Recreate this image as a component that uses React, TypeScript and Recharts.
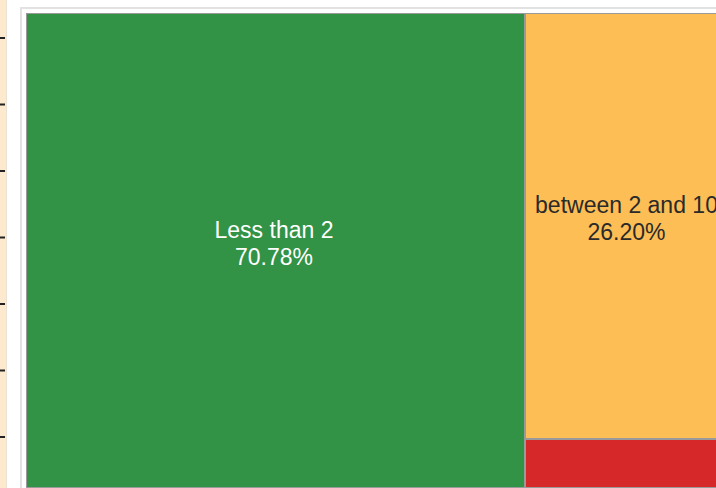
import React from 'react';
import { Treemap, LineChart, Line, YAxis } from 'recharts';

const categories = ['Less than 2', 'between 2 and 10', 'more than 10'];
const shares = [70.78, 26.2, 3.02];
const fills = ['#329246', '#FDBE55', '#D62828'];
const labelColors = ['#ffffff', '#2a2a2a', '#ffffff'];
const sideTicks = [0, 1, 2, 3, 4, 5, 6];

const treeData = categories.map((name, i) => ({
  name,
  size: shares[i],
  fill: fills[i],
  labelColor: labelColors[i],
}));

const sideData = sideTicks.map((v) => ({ v }));

const Cell = (props: any) => {
  const { x, y, width, height, depth, name, size, fill, labelColor } = props;
  if (depth !== 1) return null;
  const cx = x + width / 2;
  const cy = y + height / 2;
  const showLabel = height > 80 && width > 80;
  return (
    <g>
      <rect
        x={x + 0.5}
        y={y + 0.5}
        width={Math.max(0, width - 1)}
        height={Math.max(0, height - 1)}
        fill={fill}
        stroke="#9a9a9a"
        strokeWidth={1}
      />
      {showLabel && (
        <text
          x={cx}
          textAnchor="middle"
          fill={labelColor}
          stroke="none"
          fontFamily="'Liberation Sans', Arial, sans-serif"
          fontSize={23}
        >
          <tspan x={cx - 1.5} y={cy - 13}>{name}</tspan>
          <tspan x={cx - 1.5} y={cy + 14}>{`${Number(size).toFixed(2)}%`}</tspan>
        </text>
      )}
    </g>
  );
};

export default function App() {
  return (
    <div
      style={{
        position: 'absolute',
        left: 0,
        top: 0,
        width: 716,
        height: 488,
        overflow: 'hidden',
        background: '#ffffff',
      }}
    >
      <div
        style={{
          position: 'absolute',
          left: 0,
          top: 0,
          width: 6,
          height: 488,
          background: '#FCE9CE',
          borderRight: '1px solid #ebe2d5',
        }}
      />
      <div style={{ position: 'absolute', left: 0, top: 0 }}>
        <LineChart width={20} height={488} data={sideData} margin={{ top: 38, bottom: 51, left: 0, right: 0 }}>
          <YAxis
            dataKey="v"
            type="number"
            domain={[0, 6]}
            ticks={sideTicks}
            width={5}
            tickSize={5}
            axisLine={false}
            tick={{ fontSize: 0 }}
            tickFormatter={() => ''}
            tickLine={{ stroke: '#222222', strokeWidth: 2 }}
          />
          <Line dataKey="v" stroke="none" dot={false} isAnimationActive={false} />
        </LineChart>
      </div>
      <div
        style={{
          position: 'absolute',
          left: 20,
          top: 7,
          width: 760,
          height: 520,
          border: '2px solid #e2e2e2',
          boxSizing: 'border-box',
        }}
      />
      <div style={{ position: 'absolute', left: 26, top: 13 }}>
        <Treemap
          width={705}
          height={475}
          data={treeData}
          dataKey="size"
          nameKey="name"
          isAnimationActive={false}
          content={<Cell />}
        />
      </div>
    </div>
  );
}
